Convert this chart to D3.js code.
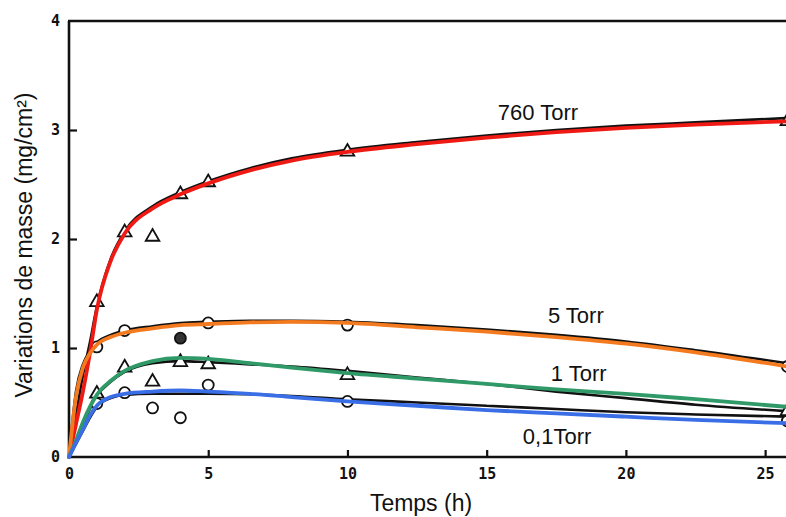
<!DOCTYPE html>
<html>
<head>
<meta charset="utf-8">
<script src="https://cdn.jsdelivr.net/npm/d3@7"></script>
<style>
  html, body { margin: 0; padding: 0; background: #fff; }
  svg { display: block; }
</style>
</head>
<body>
<svg id="chart" width="786" height="517"></svg>
<script>
// ---------- data ----------
const tFit = [0, 0.25, 0.5, 0.75, 1, 1.5, 2, 3, 4, 5, 6.5, 8, 10, 12.5, 15, 17.5, 20, 22.5, 25.8];

// fitted (coloured) curves
const fit760 = [0, 0.30, 0.60, 0.95, 1.35, 1.80, 2.05, 2.28, 2.41, 2.51, 2.63, 2.72, 2.80, 2.87, 2.93, 2.98, 3.02, 3.05, 3.08];
const fit5   = [0, 0.55, 0.82, 0.95, 1.03, 1.10, 1.14, 1.18, 1.21, 1.22, 1.235, 1.24, 1.23, 1.19, 1.15, 1.10, 1.04, 0.96, 0.83];
const fit1   = [0, 0.15, 0.32, 0.46, 0.57, 0.70, 0.79, 0.88, 0.91, 0.90, 0.86, 0.82, 0.77, 0.72, 0.67, 0.62, 0.58, 0.53, 0.46];
const fit01  = [0, 0.13, 0.25, 0.38, 0.47, 0.55, 0.58, 0.60, 0.61, 0.60, 0.58, 0.55, 0.51, 0.47, 0.43, 0.40, 0.37, 0.34, 0.31];

// original (black) curves
const orig760 = [0, 0.38, 0.75, 1.05, 1.38, 1.82, 2.07, 2.30, 2.43, 2.53, 2.65, 2.74, 2.82, 2.89, 2.95, 3.00, 3.04, 3.07, 3.11];
const orig5   = [0, 0.60, 0.85, 0.97, 1.05, 1.12, 1.16, 1.20, 1.23, 1.24, 1.25, 1.25, 1.24, 1.21, 1.17, 1.12, 1.06, 0.98, 0.86];
const orig1   = [0, 0.14, 0.30, 0.44, 0.56, 0.69, 0.78, 0.86, 0.88, 0.87, 0.85, 0.83, 0.79, 0.73, 0.67, 0.60, 0.54, 0.48, 0.42];
const orig01  = [0, 0.12, 0.24, 0.36, 0.46, 0.54, 0.57, 0.58, 0.58, 0.58, 0.575, 0.56, 0.53, 0.50, 0.47, 0.44, 0.41, 0.39, 0.37];

// measured points
const tPts = [1, 2, 3, 4, 5, 10, 25.8];
const pts760 = [1.42, 2.06, 2.02, 2.41, 2.52, 2.80, 3.08];
const pts5   = [1.01, 1.16, null, 1.09, 1.23, 1.21, 0.83];
const pts1   = [0.58, 0.82, 0.69, 0.87, 0.85, 0.75, 0.42];
const pts01  = [0.49, 0.59, 0.45, 0.36, 0.66, 0.51, 0.33];
const filledPts5 = [false, false, false, true, false, false, false];

const seriesNames  = ["760 Torr", "5 Torr", "1 Torr", "0,1Torr"];
const seriesColors = ["#f01a14", "#f47a20", "#2f9a68", "#3a6ee6"];
const labelPos = [[15.4, 3.09], [17.2, 1.23], [17.3, 0.70], [16.3, 0.12]]; // data coords for labels

const xTicks = [0, 5, 10, 15, 20, 25];
const yTicks = [0, 1, 2, 3, 4];
const xTitle = "Temps (h)";
const yTitle = "Variations de masse (mg/cm²)";

// ---------- drawing ----------
const svg = d3.select("#chart");
const x = d3.scaleLinear().domain([0, 25.75]).range([69, 786]);
const y = d3.scaleLinear().domain([0, 4]).range([457, 21]);

const line = d3.line()
  .x(d => x(d[0])).y(d => y(d[1]))
  .curve(d3.curveMonotoneX);

const fits = [fit760, fit5, fit1, fit01];
const origs = [orig760, orig5, orig1, orig01];
const pts = [pts760, pts5, pts1, pts01];
const markerType = ["tri", "circ", "tri", "circ"];

// axes frame
const frame = svg.append("g").attr("stroke", "#111").attr("stroke-width", 2.6).attr("fill", "none");
frame.append("line").attr("x1", x(0)).attr("x2", x(0)).attr("y1", y(4)).attr("y2", y(0) + 1);
frame.append("line").attr("x1", x(0) - 1).attr("x2", 786).attr("y1", y(0)).attr("y2", y(0));
frame.append("line").attr("x1", x(0) - 1).attr("x2", 786).attr("y1", y(4)).attr("y2", y(4));

// ticks (inward)
const tickFont = "'DejaVu Sans Mono', monospace";
const xAxis = d3.axisBottom(x).tickValues(xTicks).tickSize(-7).tickPadding(11).tickFormat(d3.format("d"));
const gx = svg.append("g").attr("transform", `translate(0,${y(0)})`).call(xAxis);
gx.select(".domain").remove();
gx.selectAll(".tick line").attr("stroke", "#111").attr("stroke-width", 2.2);
gx.selectAll(".tick").filter(d => d === 0).select("line").remove();
gx.selectAll("text").attr("font-family", tickFont).attr("font-weight", "bold")
  .attr("font-size", 15).attr("fill", "#111");

const yAxis = d3.axisLeft(y).tickValues(yTicks).tickSize(-8).tickPadding(9).tickFormat(d3.format("d"));
const gy = svg.append("g").attr("transform", `translate(${x(0)},0)`).call(yAxis);
gy.select(".domain").remove();
gy.selectAll(".tick line").attr("stroke", "#111").attr("stroke-width", 2.2);
gy.selectAll(".tick").filter(d => d === 0 || d === 4).select("line").remove();
gy.selectAll("text").attr("font-family", tickFont).attr("font-weight", "bold")
  .attr("font-size", 15).attr("fill", "#111");

// original black curves
origs.forEach(arr => {
  svg.append("path")
    .datum(tFit.map((t, i) => [t, arr[i]]))
    .attr("d", line)
    .attr("fill", "none").attr("stroke", "#111").attr("stroke-width", 2.6);
});

// markers
pts.forEach((arr, s) => {
  const data = tPts.map((t, i) => [t, arr[i], s === 1 && filledPts5[i]]).filter(d => d[1] !== null);
  const g = svg.append("g");
  if (markerType[s] === "tri") {
    g.selectAll("path").data(data).join("path")
      .attr("d", d3.symbol().type(d3.symbolTriangle).size(80))
      .attr("transform", d => `translate(${x(d[0])},${y(d[1])})`)
      .attr("fill", "#fff").attr("stroke", "#111").attr("stroke-width", 1.8);
  } else {
    g.selectAll("circle").data(data).join("circle")
      .attr("cx", d => x(d[0])).attr("cy", d => y(d[1])).attr("r", 5.5)
      .attr("fill", d => d[2] ? "#333" : "#fff").attr("stroke", "#111").attr("stroke-width", 1.8);
  }
});

// coloured fits
fits.forEach((arr, s) => {
  svg.append("path")
    .datum(tFit.map((t, i) => [t, arr[i]]))
    .attr("d", line)
    .attr("fill", "none").attr("stroke", seriesColors[s]).attr("stroke-width", 3.8)
    .attr("stroke-linecap", "round");
});

// series labels
svg.append("g").selectAll("text").data(seriesNames).join("text")
  .attr("x", (d, i) => x(labelPos[i][0]))
  .attr("y", (d, i) => y(labelPos[i][1]))
  .attr("font-family", "'Liberation Sans', Arial, sans-serif")
  .attr("font-size", 22).attr("fill", "#111")
  .text(d => d);

// axis titles
svg.append("text")
  .attr("x", 421).attr("y", 511)
  .attr("text-anchor", "middle")
  .attr("font-family", "'Liberation Sans', Arial, sans-serif")
  .attr("font-size", 23).attr("fill", "#111")
  .text(xTitle);

svg.append("text")
  .attr("transform", "translate(32,245) rotate(-90)")
  .attr("text-anchor", "middle")
  .attr("font-family", "'Liberation Sans', Arial, sans-serif")
  .attr("font-size", 23).attr("fill", "#111")
  .text(yTitle);
</script>
</body>
</html>
